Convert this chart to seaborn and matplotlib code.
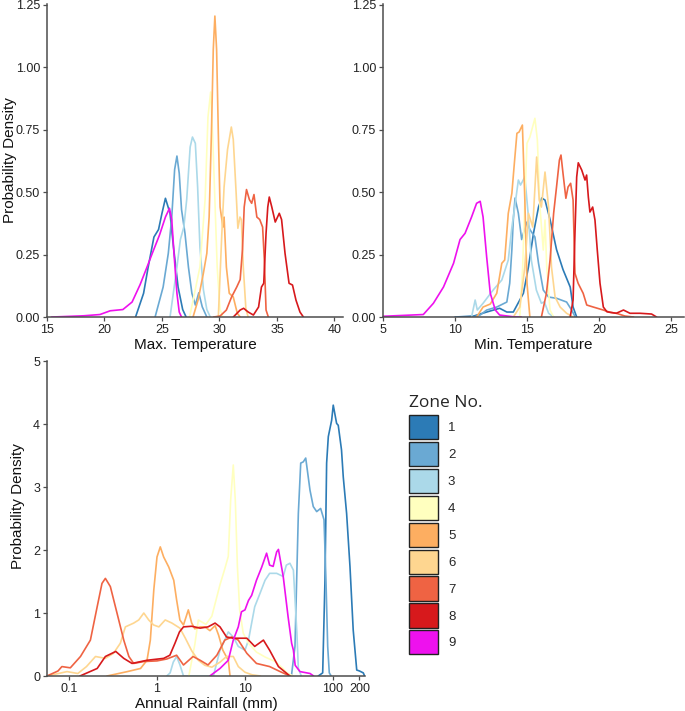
import numpy as np
import pandas as pd
import matplotlib
matplotlib.use("Agg")
import matplotlib.pyplot as plt
from matplotlib.patches import Patch
import seaborn as sns

sns.set_theme(style="ticks")
plt.rcParams['font.family'] = ['Liberation Sans', 'DejaVu Sans']

ZONES = ["1", "2", "3", "4", "5", "6", "7", "8", "9"]
COLORS = ["#2c7bb6", "#6aa9d3", "#abd9e9", "#ffffbf", "#fdae61",
          "#fed690", "#ef6343", "#d7191c", "#ee11ee"]

# ---------------- Max. Temperature densities ----------------
maxt_z1_x = [22.7, 23.4, 23.8, 24.3, 24.7, 25.0, 25.3, 25.7, 26.0, 26.4, 26.8, 27.1]
maxt_z1_y = [0.0, 0.095, 0.20, 0.32, 0.35, 0.415, 0.475, 0.415, 0.28, 0.12, 0.03, 0.0]
maxt_z2_x = [24.4, 25.1, 25.55, 25.85, 26.1, 26.3, 26.5, 26.7, 27.0, 27.3, 27.6, 27.9, 28.2, 28.5, 28.9]
maxt_z2_y = [0.0, 0.12, 0.255, 0.40, 0.59, 0.644, 0.575, 0.43, 0.335, 0.20, 0.095, 0.048, 0.097, 0.041, 0.0]
maxt_z3_x = [25.7, 26.3, 26.6, 26.9, 27.15, 27.45, 27.65, 27.9, 28.1, 28.3, 28.6, 28.9, 29.2]
maxt_z3_y = [0.0, 0.20, 0.31, 0.36, 0.47, 0.68, 0.72, 0.695, 0.52, 0.28, 0.11, 0.03, 0.0]
maxt_z4_x = [27.4, 28.3, 28.75, 29.0, 29.23, 29.4, 29.6, 29.8, 30.05, 30.3]
maxt_z4_y = [0.0, 0.20, 0.47, 0.80, 0.90, 0.735, 0.47, 0.20, 0.03, 0.0]
maxt_z5_x = [27.7, 28.15, 28.6, 28.9, 29.1, 29.3, 29.46, 29.6, 29.75, 29.9, 30.05,
             30.3, 30.4, 30.6, 30.85, 31.2, 31.55, 31.8]
maxt_z5_y = [0.0, 0.07, 0.175, 0.255, 0.40, 0.735, 1.07, 1.204, 1.07, 0.735, 0.44,
             0.36, 0.40, 0.20, 0.095, 0.08, 0.015, 0.0]
maxt_z6_x = [29.9, 30.2, 30.4, 30.7, 31.03, 31.2, 31.45, 31.6, 31.78, 31.9, 32.07, 32.3, 32.5]
maxt_z6_y = [0.0, 0.33, 0.52, 0.67, 0.76, 0.71, 0.495, 0.355, 0.40, 0.39, 0.20, 0.03, 0.0]
maxt_z7_x = [29.5, 30.05, 30.6, 31.05, 31.5, 31.8, 32.0, 32.15, 32.35, 32.6, 32.8, 33.0,
             33.25, 33.5, 33.75, 33.9, 34.05, 34.25]
maxt_z7_y = [0.0, 0.004, 0.028, 0.08, 0.12, 0.15, 0.27, 0.44, 0.51, 0.47, 0.455, 0.49,
             0.40, 0.39, 0.36, 0.23, 0.028, 0.0]
maxt_z8_x = [31.2, 31.8, 32.1, 32.5, 32.95, 33.4, 33.65, 33.85, 34.05, 34.2, 34.33, 34.55,
             34.85, 35.2, 35.4, 35.7, 36.05, 36.35, 36.65, 37.0, 37.3]
maxt_z8_y = [0.0, 0.028, 0.035, 0.02, 0.008, 0.04, 0.12, 0.135, 0.335, 0.44, 0.48, 0.44,
             0.38, 0.415, 0.39, 0.255, 0.135, 0.128, 0.068, 0.02, 0.0]
maxt_z9_x = [15.4, 18.2, 19.6, 20.5, 21.6, 22.4, 23.1, 23.7, 24.2, 24.8, 25.3, 25.65,
             25.85, 26.05, 26.3, 26.5, 26.7]
maxt_z9_y = [0.0, 0.005, 0.01, 0.025, 0.03, 0.06, 0.13, 0.20, 0.26, 0.33, 0.40, 0.435,
             0.39, 0.25, 0.095, 0.02, 0.0]

# ---------------- Min. Temperature densities ----------------
mint_z1_x = [10.0, 11.3, 12.2, 13.1, 13.6, 14.05, 14.75, 15.1, 15.45, 15.8, 16.02, 16.25,
             16.6, 17.05, 17.5, 18.0, 18.2, 18.45]
mint_z1_y = [0.0, 0.004, 0.02, 0.035, 0.02, 0.02, 0.095, 0.20, 0.335, 0.44, 0.476, 0.468,
             0.39, 0.27, 0.19, 0.12, 0.04, 0.0]
mint_z2_x = [11.3, 11.75, 12.2, 12.9, 13.6, 13.8, 13.95, 14.05, 14.17, 14.4, 14.63, 14.75,
             15.0, 15.2, 15.55, 15.8, 16.13, 16.5, 17.05, 17.75, 18.1, 18.35]
mint_z2_y = [0.0, 0.008, 0.028, 0.04, 0.06, 0.135, 0.27, 0.39, 0.476, 0.415, 0.31, 0.335,
             0.38, 0.35, 0.32, 0.215, 0.108, 0.08, 0.075, 0.06, 0.028, 0.0]
mint_z3_x = [11.15, 11.4, 11.55, 11.95, 12.65, 13.25, 13.7, 13.95, 14.15, 14.4, 14.55,
             14.85, 15.1, 15.3, 15.65, 16.0, 16.2, 16.5, 16.85]
mint_z3_y = [0.0, 0.068, 0.028, 0.055, 0.108, 0.148, 0.228, 0.36, 0.44, 0.548, 0.528,
             0.56, 0.40, 0.228, 0.108, 0.055, 0.061, 0.015, 0.0]
mint_z4_x = [14.5, 14.7, 14.85, 15.0, 15.2, 15.55, 15.72, 15.9, 16.13, 16.25, 16.37, 16.6, 16.85]
mint_z4_y = [0.0, 0.20, 0.468, 0.695, 0.72, 0.795, 0.708, 0.44, 0.268, 0.388, 0.20, 0.028, 0.0]
mint_z5_x = [11.5, 11.95, 12.45, 12.9, 13.25, 13.45, 13.7, 13.95, 14.1, 14.3, 14.45, 14.68,
             14.85, 15.0, 15.2]
mint_z5_y = [0.0, 0.04, 0.052, 0.095, 0.215, 0.228, 0.415, 0.495, 0.60, 0.735, 0.74, 0.768,
             0.468, 0.135, 0.0]
mint_z6_x = [14.05, 14.5, 14.85, 15.1, 15.4, 15.67, 15.85, 16.0, 16.25, 16.5, 16.7, 16.95,
             17.3, 17.75, 18.2]
mint_z6_y = [0.0, 0.04, 0.20, 0.415, 0.36, 0.64, 0.468, 0.44, 0.58, 0.44, 0.20, 0.08,
             0.04, 0.015, 0.0]
mint_z7_x = [16.0, 16.35, 16.6, 16.85, 17.05, 17.25, 17.36, 17.5, 17.7, 17.85, 18.03, 18.2,
             18.33, 18.55, 18.9, 19.15, 19.6, 20.3, 20.75, 21.2, 21.8, 22.4]
mint_z7_y = [0.0, 0.095, 0.228, 0.415, 0.52, 0.628, 0.648, 0.575, 0.475, 0.52, 0.535, 0.468,
             0.175, 0.135, 0.095, 0.048, 0.04, 0.028, 0.019, 0.015, 0.004, 0.0]
mint_z8_x = [18.0, 18.2, 18.33, 18.45, 18.56, 18.8, 19.03, 19.14, 19.26, 19.37, 19.56, 19.72,
             19.88, 20.07, 20.3, 20.55, 21.2, 21.7, 22.15, 22.85, 23.65, 24.0]
mint_z8_y = [0.0, 0.068, 0.335, 0.56, 0.617, 0.588, 0.548, 0.568, 0.48, 0.42, 0.44, 0.388,
             0.268, 0.135, 0.04, 0.021, 0.015, 0.028, 0.015, 0.015, 0.012, 0.0]
mint_z9_x = [5.0, 7.8, 8.5, 9.2, 9.9, 10.35, 10.7, 11.15, 11.5, 11.75, 11.95, 12.2, 12.45,
             12.8, 13.1, 14.05, 14.6]
mint_z9_y = [0.003, 0.01, 0.055, 0.12, 0.215, 0.31, 0.335, 0.40, 0.455, 0.463, 0.40, 0.24,
             0.095, 0.028, 0.008, 0.001, 0.0]

# ---------------- Annual Rainfall densities ----------------
rain_z1_x = [68, 76.4, 81.1, 84.7, 88.5, 96.6, 100.7, 110, 114.8, 125, 130.9, 142.9, 156,
             169.8, 186.2, 200, 221, 229]
rain_z1_y = [0.0, 0.05, 1.52, 3.38, 3.8, 4.06, 4.30, 4.01, 3.98, 3.59, 3.16, 2.58, 1.74,
             0.73, 0.095, 0.08, 0.05, 0.0]
rain_z2_x = [33.7, 37.0, 40.4, 43.0, 46.0, 49.0, 54.8, 59.7, 65.3, 72.4, 79.1, 83.2, 87.1,
             90.8, 95.5]
rain_z2_y = [0.0, 0.47, 2.58, 3.38, 3.40, 3.46, 2.95, 2.69, 2.61, 2.66, 2.48, 1.52, 0.47,
             0.05, 0.0]
rain_z3_x = [1.29, 1.41, 1.53, 1.67, 1.82, 2.0, 4.37, 5.2, 5.89, 6.46, 7.36, 8.39, 10.0,
             10.96, 11.9, 12.9, 14.8, 16.9, 19.05, 22.9, 27.2, 29.5, 32.4, 35.5, 38.9, 40.4, 43.7]
rain_z3_y = [0.0, 0.05, 0.22, 0.31, 0.18, 0.0, 0.0, 0.41, 0.57, 0.70, 0.62, 0.47, 0.41,
             0.57, 0.84, 1.1, 1.31, 1.52, 1.63, 1.63, 1.58, 1.76, 1.79, 1.68, 0.68, 0.12, 0.0]
rain_z4_x = [2.3, 2.69, 2.95, 3.3, 3.6, 4.2, 5.2, 5.89, 6.46, 6.87, 7.36, 7.76, 8.2, 8.7,
             9.55, 10.96, 13.5, 17.0, 22.0, 27.0, 30.0, 35.5]
rain_z4_y = [0.0, 0.5, 0.89, 0.85, 0.82, 0.95, 1.45, 1.7, 1.9, 2.79, 3.35, 2.79, 1.74, 1.05,
             0.68, 0.52, 0.38, 0.30, 0.23, 0.12, 0.05, 0.0]
rain_z5_x = [0.27, 0.46, 0.65, 0.77, 0.84, 0.92, 1.0, 1.09, 1.19, 1.36, 1.55, 1.67, 1.82,
             2.0, 2.27, 2.48, 2.69, 3.09, 3.5, 4.0, 4.57, 5.01, 5.6, 6.46, 6.76]
rain_z5_y = [0.0, 0.07, 0.12, 0.25, 0.57, 1.37, 1.89, 2.05, 1.89, 1.73, 1.52, 1.21, 0.89,
             0.81, 1.05, 0.84, 0.75, 0.78, 0.78, 0.72, 0.80, 0.65, 0.41, 0.25, 0.0]
rain_z6_x = [0.056, 0.095, 0.126, 0.158, 0.2, 0.259, 0.32, 0.383, 0.437, 0.543, 0.62, 0.708,
             0.805, 0.916, 1.05, 1.24, 1.48, 1.82, 2.1, 2.48, 2.95, 3.5, 4.2, 5.2, 6.17, 7.36,
             8.4, 10.0, 12.0, 15.0]
rain_z6_y = [0.0, 0.07, 0.04, 0.15, 0.31, 0.28, 0.36, 0.52, 0.78, 0.84, 0.89, 1.0, 0.89,
             0.81, 0.78, 0.89, 0.84, 0.76, 0.6, 0.4, 0.25, 0.17, 0.14, 0.22, 0.31, 0.31, 0.15,
             0.06, 0.02, 0.0]
rain_z7_x = [0.056, 0.075, 0.083, 0.1035, 0.135, 0.175, 0.209, 0.237, 0.259, 0.295, 0.351,
             0.419, 0.479, 0.543, 0.708, 1.0, 1.29, 1.67, 2.0, 2.57, 3.09, 3.8, 4.79, 5.89,
             7.08, 8.39, 10.5, 13.5, 19.05, 25.1, 32.4]
rain_z7_y = [0.0, 0.08, 0.15, 0.13, 0.31, 0.57, 1.10, 1.47, 1.55, 1.42, 1.0, 0.57, 0.31,
             0.2, 0.23, 0.24, 0.27, 0.33, 0.175, 0.31, 0.25, 0.175, 0.33, 0.57, 0.62, 0.57,
             0.36, 0.2, 0.15, 0.07, 0.0]
rain_z8_x = [0.133, 0.209, 0.259, 0.34, 0.419, 0.52, 0.77, 1.19, 1.4, 1.6, 1.8, 2.0, 2.48,
             3.09, 3.8, 4.57, 5.2, 6.17, 7.36, 10.5, 12.9, 16.2, 19.05, 24.0, 32.4]
rain_z8_y = [0.0, 0.12, 0.31, 0.39, 0.28, 0.2, 0.25, 0.28, 0.33, 0.52, 0.7, 0.78, 0.79,
             0.76, 0.78, 0.84, 0.78, 0.62, 0.60, 0.60, 0.47, 0.57, 0.41, 0.15, 0.0]
rain_z9_x = [3.98, 5.2, 6.46, 7.36, 8.39, 9.12, 10.0, 10.96, 11.9, 13.5, 15.5, 17.6, 19.05,
             20.9, 22.9, 24.0, 27.2, 30.9, 33.9, 35.5, 37.2, 42.2, 54.9, 60.3]
rain_z9_y = [0.0, 0.12, 0.25, 0.57, 0.78, 1.02, 1.05, 1.2, 1.28, 1.52, 1.73, 1.95, 1.76,
             1.74, 1.97, 2.01, 1.58, 0.94, 0.52, 0.41, 0.17, 0.07, 0.04, 0.0]


def long_frame(prefix):
    g = globals()
    parts = []
    for z in ZONES:
        xs = g[f"{prefix}_z{z}_x"]
        ys = g[f"{prefix}_z{z}_y"]
        parts.append(pd.DataFrame({"value": xs, "density": ys, "zone": z,
                                   "order": np.arange(len(xs))}))
    return pd.concat(parts, ignore_index=True)


palette = dict(zip(ZONES, COLORS))
AXC = "#4d4d4d"

fig = plt.figure(figsize=(6.85, 7.11), dpi=100)
ax1 = fig.add_axes([0.0686, 0.5541, 0.4321, 0.4402])
ax2 = fig.add_axes([0.5591, 0.5541, 0.4394, 0.4402])
ax3 = fig.add_axes([0.0686, 0.0492, 0.4642, 0.4430])

for ax, prefix in [(ax1, "maxt"), (ax2, "mint"), (ax3, "rain")]:
    df = long_frame(prefix)
    sns.lineplot(data=df, x="value", y="density", hue="zone", units="zone",
                 estimator=None, sort=False, palette=palette, hue_order=ZONES,
                 linewidth=1.2, legend=False, ax=ax)
    ax.set_facecolor("white")
    sns.despine(ax=ax)
    for s in ("left", "bottom"):
        ax.spines[s].set_color(AXC)
        ax.spines[s].set_linewidth(1.1)
    ax.tick_params(axis="both", which="major", length=3, width=0.9, color=AXC,
                   labelsize=9, labelcolor="#222222", pad=2)
    ax.set_ylabel("")
    ax.set_xlabel("")

# top-left
ax1.set_xlim(15, 40.74)
ax1.set_ylim(0, 1.252)
ax1.set_xticks([15, 20, 25, 30, 35, 40])
ax1.set_yticks([0, 0.25, 0.5, 0.75, 1.0, 1.25])
ax1.set_yticklabels(["0.00", "0.25", "0.50", "0.75", "1.00", "1.25"])
ax1.set_xlabel("Max. Temperature", fontsize=11, color="#111111")
ax1.set_ylabel("Probability Density", fontsize=11, color="#111111")
ax1.xaxis.set_label_coords(0.5, -0.068)
ax1.yaxis.set_label_coords(-0.10, 0.5)

# top-right
ax2.set_xlim(5, 25.9)
ax2.set_ylim(0, 1.252)
ax2.set_xticks([5, 10, 15, 20, 25])
ax2.set_yticks([0, 0.25, 0.5, 0.75, 1.0, 1.25])
ax2.set_yticklabels(["0.00", "0.25", "0.50", "0.75", "1.00", "1.25"])
ax2.set_xlabel("Min. Temperature", fontsize=11, color="#111111")
ax2.xaxis.set_label_coords(0.5, -0.068)

# bottom
ax3.set_xscale("log")
ax3.set_xlim(0.0562, 231)
ax3.set_ylim(0, 5.0)
ax3.set_xticks([0.1, 1, 10, 100, 200])
ax3.set_xticklabels(["0.1", "1", "10", "100", "200"])
ax3.xaxis.set_minor_locator(matplotlib.ticker.NullLocator())
ax3.set_yticks([0, 1, 2, 3, 4, 5])
ax3.set_yticklabels(["0", "1", "2", "3", "4", "5"])
ax3.set_xlabel("Annual Rainfall (mm)", fontsize=11, color="#111111")
ax3.set_ylabel("Probability Density", fontsize=11, color="#111111")
ax3.xaxis.set_label_coords(0.5, -0.066)
ax3.yaxis.set_label_coords(-0.07, 0.54)

handles = [Patch(facecolor=c, edgecolor="#222222", linewidth=1.0) for c in COLORS]
leg = fig.legend(handles, ZONES, loc="upper left", bbox_to_anchor=(409 / 685, 1 - 395 / 711),
                 frameon=False, fontsize=9.5, title="Zone No.",
                 handlelength=2.2, handleheight=2.45, labelspacing=0.2,
                 handletextpad=0.75, borderaxespad=0, borderpad=0)
leg.get_title().set_fontsize(12.5)
leg.get_title().set_family(["Open Sans", "DejaVu Sans"])
leg._legend_box.align = "left"
leg._legend_box.sep = 3

fig.savefig("out.png", dpi=100, facecolor="white")
